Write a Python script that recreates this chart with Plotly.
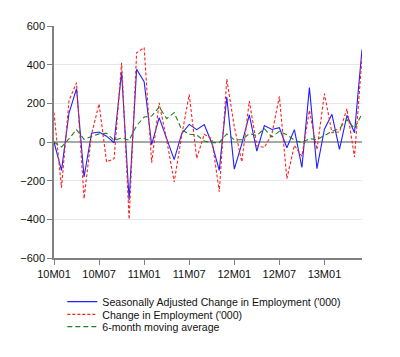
import plotly.graph_objects as go

months = [f"{10 + i // 12}M{i % 12 + 1:02d}" for i in range(42)]
tick_labels = ["10M01", "10M07", "11M01", "11M07", "12M01", "12M07", "13M01"]

sa_change = [0, -147, 150, 276, -181, 46, 52, 30, -4, 362, -300, 376, 312, -14, 126,
             17, -91, 43, 91, 64, 90, -5, -147, 233, -140, -10, 140, -47, 85, 65,
             74, -30, 64, -131, 281, -138, 66, 143, -38, 138, 48, 478]
change = [152, -236, 215, 307, -293, 40, 197, -103, -86, 410, -400, 462, 488, -107, 203,
          10, -207, 34, 246, -85, 40, 17, -257, 325, 80, -103, 212, -20, -28, 40,
          236, -190, -17, -74, 164, -40, 250, 48, 52, 172, -78, 438]
mov_avg = [0, -26, 17, 64, 14, 30, 42, 45, 9, 21, 9, 85, 129, 134, 181,
           121, 152, 64, 40, 36, 5, -3, -3, 42, 12, 12, 43, 34, 69, 26,
           55, 38, 9, -3, 17, 12, 34, 55, 69, 116, 69, 147]

x = list(range(len(months)))
tickvals = [months.index(t) for t in tick_labels]

fig = go.Figure()
fig.add_trace(go.Scatter(x=x, y=sa_change, mode="lines", name="Seasonally Adjusted Change in Employment ('000)",
                         line=dict(color="#1f1fff", width=1.1), legend="legend"))
fig.add_trace(go.Scatter(x=x, y=change, mode="lines", name="Change in Employment ('000)",
                         line=dict(color="#ff2020", width=1.1, dash="3px,2px"), legend="legend2"))
fig.add_trace(go.Scatter(x=x, y=mov_avg, mode="lines", name="6-month moving average",
                         line=dict(color="#208020", width=1.1, dash="5px,3px"), legend="legend3"))

font = dict(family="Liberation Sans, Arial, sans-serif", size=11, color="#111111")
leg = dict(x=0.027, xanchor="left", yanchor="middle", bgcolor="rgba(0,0,0,0)",
           font=dict(family="Liberation Sans, Arial, sans-serif", size=10.6, color="#111111"),
           borderwidth=0)

fig.update_layout(
    width=400, height=357,
    margin=dict(l=44, r=46, t=17, b=107),
    paper_bgcolor="white", plot_bgcolor="white",
    font=font,
    showlegend=True,
    legend=dict(leg, y=-0.188),
    legend2=dict(leg, y=-0.243),
    legend3=dict(leg, y=-0.296),
    xaxis=dict(range=[0, 41], tickmode="array", tickvals=tickvals, ticktext=tick_labels,
               showgrid=False, zeroline=False, showline=True, linecolor="#808080", linewidth=1.5,
               ticks="outside", ticklen=5, tickcolor="#808080", tickfont=font),
    yaxis=dict(range=[-600, 600], tickmode="array", tickvals=[-600, -400, -200, 0, 200, 400, 600],
               showgrid=True, gridcolor="#e8e8e8", gridwidth=1,
               zeroline=True, zerolinecolor="#a8a8a8", zerolinewidth=1.5,
               showline=True, linecolor="#808080", linewidth=1.5,
               ticks="outside", ticklen=5, tickcolor="#808080", tickfont=font),
)

fig.write_html("out.html")
